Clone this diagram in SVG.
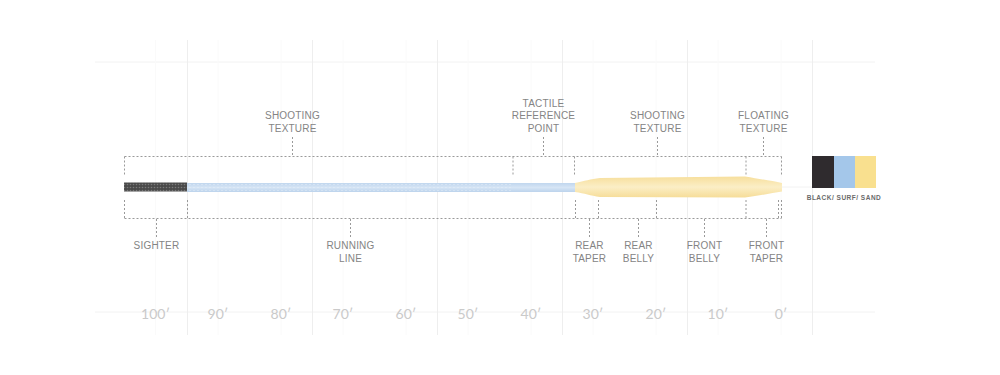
<svg xmlns="http://www.w3.org/2000/svg" width="1000" height="375" viewBox="0 0 1000 375">
  <style>
    .grid { stroke: #eeeeee; stroke-width: 1; fill: none; }
    .grid2 { stroke: #fafafa; stroke-width: 1; fill: none; }
    .gridh { stroke: #f2f2f2; stroke-width: 1; fill: none; }
    .dot { stroke: #9a9a9a; stroke-width: 1; stroke-dasharray: 2 2; fill: none; }
    .lbl { font-family: "Liberation Sans", Arial, sans-serif; font-size: 10px; fill: #848484; text-anchor: middle; letter-spacing: 0.2px; }
    .scale { font-family: "Lato", "Liberation Sans", sans-serif; font-size: 14px; fill: #cacaca; text-anchor: middle; }
    .sw { font-family: "Liberation Sans", Arial, sans-serif; font-weight: bold; font-size: 6.5px; fill: #6a6a6a; text-anchor: middle; letter-spacing: 0.5px; }
  </style>
  <defs>
    <pattern id="sighterTex" width="3" height="3" patternUnits="userSpaceOnUse">
      <rect width="3" height="3" fill="#4a4a4a"/>
      <circle cx="1.5" cy="1.5" r="0.8" fill="#7a7a7a"/>
    </pattern>
    <linearGradient id="blueG" x1="0" y1="0" x2="0" y2="1">
      <stop offset="0" stop-color="#c0d6ee"/>
      <stop offset="0.5" stop-color="#d6e5f5"/>
      <stop offset="1" stop-color="#bcd3ec"/>
    </linearGradient>
    <linearGradient id="yellowG" x1="0" y1="0" x2="0" y2="1">
      <stop offset="0" stop-color="#f7df9c"/>
      <stop offset="0.5" stop-color="#fbeec6"/>
      <stop offset="1" stop-color="#f6dd98"/>
    </linearGradient>
    <pattern id="blueTex" width="4" height="3" patternUnits="userSpaceOnUse">
      <circle cx="2" cy="1.5" r="0.6" fill="#e6eff9"/>
    </pattern>
  </defs>

  <rect width="1000" height="375" fill="#ffffff"/>

  <g id="grid">
    <line class="gridh" x1="95" y1="62" x2="875" y2="62"/>
    <line class="gridh" x1="95" y1="312" x2="875" y2="312"/>
    <line class="gridh" x1="782" y1="187" x2="812" y2="187"/>
    <line class="grid2" x1="155.5" y1="40" x2="155.5" y2="335"/>
    <line class="grid2" x1="218" y1="40" x2="218" y2="335"/>
    <line class="grid2" x1="281" y1="40" x2="281" y2="335"/>
    <line class="grid2" x1="343" y1="40" x2="343" y2="335"/>
    <line class="grid2" x1="406" y1="40" x2="406" y2="335"/>
    <line class="grid2" x1="468" y1="40" x2="468" y2="335"/>
    <line class="grid2" x1="531" y1="40" x2="531" y2="335"/>
    <line class="grid2" x1="593" y1="40" x2="593" y2="335"/>
    <line class="grid2" x1="656" y1="40" x2="656" y2="335"/>
    <line class="grid2" x1="718" y1="40" x2="718" y2="335"/>
    <line class="grid2" x1="781" y1="40" x2="781" y2="335"/>
    <line class="grid" x1="187.5" y1="40" x2="187.5" y2="335"/>
    <line class="grid" x1="312.5" y1="40" x2="312.5" y2="335"/>
    <line class="grid" x1="437.5" y1="40" x2="437.5" y2="335"/>
    <line class="grid" x1="562.5" y1="40" x2="562.5" y2="335"/>
    <line class="grid" x1="687.5" y1="40" x2="687.5" y2="335"/>
    <line class="grid" x1="812.5" y1="40" x2="812.5" y2="335"/>
  </g>

  <g id="scale">
    <text class="scale" x="155.5" y="319">100′</text>
    <text class="scale" x="218" y="319">90′</text>
    <text class="scale" x="281" y="319">80′</text>
    <text class="scale" x="343" y="319">70′</text>
    <text class="scale" x="406" y="319">60′</text>
    <text class="scale" x="468" y="319">50′</text>
    <text class="scale" x="531" y="319">40′</text>
    <text class="scale" x="593" y="319">30′</text>
    <text class="scale" x="656" y="319">20′</text>
    <text class="scale" x="718" y="319">10′</text>
    <text class="scale" x="781" y="319">0′</text>
  </g>

  <g id="fly-line">
    <rect id="running-line" x="187" y="183" width="389" height="9" fill="url(#blueG)"/>
    <rect x="187" y="184" width="326" height="7" fill="url(#blueTex)"/>
    <rect id="sighter" x="124" y="182.5" width="63" height="9" fill="url(#sighterTex)"/>
    <path id="head" d="M575,183 C585,181 590,179 600,178 L745,176.5 C760,179 772,181 782,183 L782,191.5 C772,193 760,195.5 745,197.5 L600,197 C590,195.5 585,193.5 575,192 Z" fill="url(#yellowG)"/>
  </g>

  <g id="connectors">
    <line class="dot" x1="124.5" y1="156.5" x2="781.5" y2="156.5"/>
    <line class="dot" x1="124.5" y1="156.5" x2="124.5" y2="176"/>
    <line class="dot" x1="513" y1="156.5" x2="513" y2="175"/>
    <line class="dot" x1="574.5" y1="156.5" x2="574.5" y2="176"/>
    <line class="dot" x1="746" y1="156.5" x2="746" y2="175"/>
    <line class="dot" x1="781.5" y1="156.5" x2="781.5" y2="176"/>
    <line class="dot" x1="292.5" y1="137" x2="292.5" y2="156"/>
    <line class="dot" x1="543.5" y1="137" x2="543.5" y2="156"/>
    <line class="dot" x1="657.5" y1="137" x2="657.5" y2="156"/>
    <line class="dot" x1="763.5" y1="137" x2="763.5" y2="156"/>
    <line class="dot" x1="124.5" y1="218.5" x2="781.5" y2="218.5"/>
    <line class="dot" x1="124.5" y1="200" x2="124.5" y2="218"/>
    <line class="dot" x1="187.5" y1="200" x2="187.5" y2="218"/>
    <line class="dot" x1="575.5" y1="200" x2="575.5" y2="218"/>
    <line class="dot" x1="598.5" y1="200" x2="598.5" y2="218"/>
    <line class="dot" x1="656.5" y1="200" x2="656.5" y2="218"/>
    <line class="dot" x1="746" y1="200" x2="746" y2="218"/>
    <line class="dot" x1="778.5" y1="200" x2="778.5" y2="218"/>
    <line class="dot" x1="781.5" y1="200" x2="781.5" y2="218"/>
    <line class="dot" x1="156.5" y1="219" x2="156.5" y2="237"/>
    <line class="dot" x1="350.5" y1="219" x2="350.5" y2="237"/>
    <line class="dot" x1="589.5" y1="219" x2="589.5" y2="237"/>
    <line class="dot" x1="638.5" y1="219" x2="638.5" y2="237"/>
    <line class="dot" x1="704.5" y1="219" x2="704.5" y2="237"/>
    <line class="dot" x1="766.5" y1="219" x2="766.5" y2="237"/>
  </g>

  <g id="label-shooting-texture-1">
    <text class="lbl" x="292.5" y="119">SHOOTING</text>
    <text class="lbl" x="292.5" y="131.5">TEXTURE</text>
  </g>
  <g id="label-tactile">
    <text class="lbl" x="543.5" y="107">TACTILE</text>
    <text class="lbl" x="543.5" y="119">REFERENCE</text>
    <text class="lbl" x="543.5" y="131.5">POINT</text>
  </g>
  <g id="label-shooting-texture-2">
    <text class="lbl" x="657.5" y="119">SHOOTING</text>
    <text class="lbl" x="657.5" y="131.5">TEXTURE</text>
  </g>
  <g id="label-floating-texture">
    <text class="lbl" x="763.5" y="119">FLOATING</text>
    <text class="lbl" x="763.5" y="131.5">TEXTURE</text>
  </g>
  <g id="label-sighter">
    <text class="lbl" x="156.5" y="249">SIGHTER</text>
  </g>
  <g id="label-running-line">
    <text class="lbl" x="350.5" y="249">RUNNING</text>
    <text class="lbl" x="350.5" y="261.5">LINE</text>
  </g>
  <g id="label-rear-taper">
    <text class="lbl" x="589.5" y="249">REAR</text>
    <text class="lbl" x="589.5" y="261.5">TAPER</text>
  </g>
  <g id="label-rear-belly">
    <text class="lbl" x="638.5" y="249">REAR</text>
    <text class="lbl" x="638.5" y="261.5">BELLY</text>
  </g>
  <g id="label-front-belly">
    <text class="lbl" x="704.5" y="249">FRONT</text>
    <text class="lbl" x="704.5" y="261.5">BELLY</text>
  </g>
  <g id="label-front-taper">
    <text class="lbl" x="766.5" y="249">FRONT</text>
    <text class="lbl" x="766.5" y="261.5">TAPER</text>
  </g>

  <g id="swatches">
    <rect x="812" y="156" width="22" height="32" fill="#2f2b2e"/>
    <rect x="834" y="156" width="21" height="32" fill="#a4c7ea"/>
    <rect x="855" y="156" width="21" height="32" fill="#f9e08f"/>
    <text class="sw" x="844" y="199.5">BLACK/ SURF/ SAND</text>
  </g>
</svg>
